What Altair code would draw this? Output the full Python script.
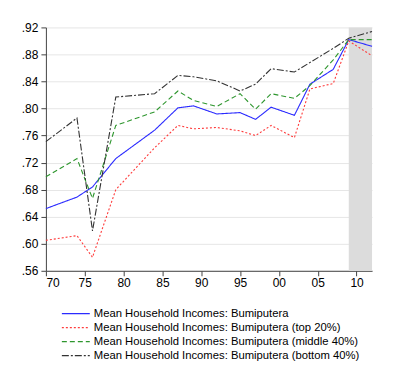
import altair as alt
import pandas as pd

years = [1970, 1974, 1976, 1979, 1984, 1987, 1989, 1992, 1995, 1997, 1999, 2002, 2004, 2007, 2009, 2012]
mean_all = [0.652, 0.669, 0.684, 0.726, 0.768, 0.801, 0.804, 0.792, 0.794, 0.784, 0.802, 0.790, 0.836, 0.858, 0.902, 0.892]
top20 = [0.605, 0.612, 0.580, 0.680, 0.742, 0.775, 0.770, 0.772, 0.767, 0.760, 0.775, 0.757, 0.829, 0.837, 0.900, 0.878]
mid40 = [0.699, 0.726, 0.667, 0.775, 0.795, 0.826, 0.812, 0.803, 0.822, 0.799, 0.822, 0.815, 0.834, 0.872, 0.902, 0.902]
bot40 = [0.751, 0.786, 0.619, 0.817, 0.822, 0.849, 0.847, 0.841, 0.826, 0.836, 0.859, 0.854, 0.868, 0.889, 0.904, 0.914]

names = [
    "Mean Household Incomes: Bumiputera",
    "Mean Household Incomes: Bumiputera (top 20%)",
    "Mean Household Incomes: Bumiputera (middle 40%)",
    "Mean Household Incomes: Bumiputera (bottom 40%)",
]
colors = ["#2b2bff", "#ff3b3b", "#2e962e", "#333333"]
dashes = [[1, 0], [2, 2], [5, 3], [7, 2, 2, 2]]

shade_start = [2009]
shade_end = [2012]

x_ticks = [1970, 1975, 1980, 1985, 1990, 1995, 2000, 2005, 2010]
y_ticks = [0.56, 0.60, 0.64, 0.68, 0.72, 0.76, 0.80, 0.84, 0.88, 0.92]

rows = []
for name, series in zip(names, [mean_all, top20, mid40, bot40]):
    for yr, v in zip(years, series):
        rows.append({"year": yr, "value": v, "series": name})
df = pd.DataFrame(rows)
shade_df = pd.DataFrame({"x": shade_start, "x2": shade_end})

xscale = alt.Scale(domain=[1970, 2012], nice=False, zero=False)
yscale = alt.Scale(domain=[0.56, 0.92], nice=False, zero=False)

x_axis = alt.Axis(
    values=x_ticks,
    labelExpr="format(datum.value % 100, '02d')",
    grid=False,
    tickSize=5,
    labelPadding=2,
    title=None,
)

legend_kw = dict(
    title=None,
    orient="none",
    legendX=15,
    legendY=279,
    symbolType="M-2,0H2",
    symbolSize=196,
    symbolOffset=7,
    symbolStrokeWidth=1.2,
    labelFont="Liberation Sans",
    labelFontSize=11.3,
    labelColor="#000000",
    labelOffset=10,
    rowPadding=0,
    labelLimit=400,
)

shade = alt.Chart(shade_df).mark_rect(color="#dcdcdc").encode(
    x=alt.X("x:Q", scale=xscale, axis=x_axis),
    x2="x2:Q",
)

lines = alt.Chart(df).mark_line(strokeWidth=1.1).encode(
    x=alt.X("year:Q", scale=xscale, axis=x_axis),
    y=alt.Y(
        "value:Q",
        scale=yscale,
        axis=alt.Axis(
            values=y_ticks,
            labelExpr="replace(format(datum.value, '.2f'), '0.', '.')",
            grid=True,
            tickSize=5,
            labelPadding=3,
            title=None,
        ),
    ),
    color=alt.Color(
        "series:N",
        scale=alt.Scale(domain=names, range=colors),
        sort=names,
        legend=alt.Legend(**legend_kw),
    ),
    strokeDash=alt.StrokeDash(
        "series:N",
        scale=alt.Scale(domain=names, range=dashes),
        sort=names,
        legend=alt.Legend(**legend_kw),
    ),
    order=alt.Order("year:Q"),
)

chart = (
    alt.layer(shade, lines)
    .properties(
        width=327,
        height=244,
        autosize=alt.AutoSizeParams(type="none"),
        padding={"left": 38, "top": 19, "right": 20, "bottom": 100},
    )
    .configure_view(stroke=None)
    .configure_axis(
        labelFont="Liberation Sans",
        labelFontSize=12,
        labelColor="#000000",
        domainColor="#444444",
        tickColor="#444444",
        gridColor="#e6e6e6",
        gridWidth=1,
    )
)

chart.save("out.html", embed_options={"renderer": "svg", "actions": False})
